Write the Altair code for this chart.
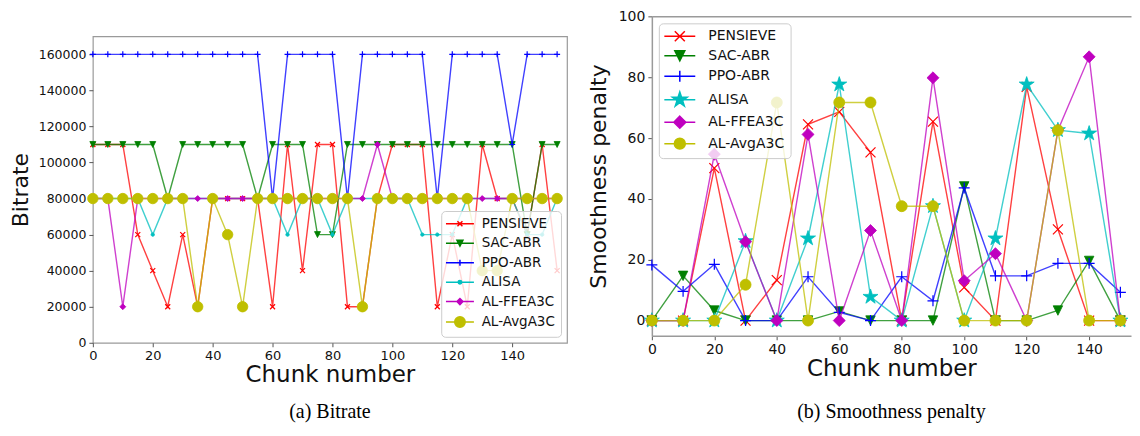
import math
import altair as alt
import pandas as pd

# ---------------- data ----------------
METHODS = ["PENSIEVE", "SAC-ABR", "PPO-ABR", "ALISA", "AL-FFEA3C", "AL-AvgA3C"]
COLORS = ["#ff0000", "#008000", "#0000ff", "#00bfbf", "#bf00bf", "#bfbf00"]

# (a) Bitrate, one point every 5 chunks
CHUNKS_A = [0, 5, 10, 15, 20, 25, 30, 35, 40, 45, 50, 55, 60, 65, 70, 75,
            80, 85, 90, 95, 100, 105, 110, 115, 120, 125, 130, 135, 140, 145, 150, 155]
BR_PENSIEVE = [110000, 110000, 110000, 60000, 40000, 20000, 60000, 20000, 80000, 80000, 80000, 80000,
               20000, 110000, 40000, 110000, 110000, 20000, 20000, 80000, 110000, 110000, 110000, 20000,
               60000, 20000, 110000, 80000, 80000, 60000, 110000, 40000]
BR_SAC = [110000, 110000, 110000, 110000, 110000, 80000, 110000, 110000, 110000, 110000, 110000, 80000,
          110000, 110000, 110000, 60000, 60000, 110000, 110000, 110000, 110000, 110000, 110000, 110000,
          110000, 110000, 110000, 110000, 110000, 60000, 110000, 110000]
BR_PPO = [160000, 160000, 160000, 160000, 160000, 160000, 160000, 160000, 160000, 160000, 160000, 160000,
          80000, 160000, 160000, 160000, 160000, 80000, 160000, 160000, 160000, 160000, 160000, 80000,
          160000, 160000, 160000, 160000, 110000, 160000, 160000, 160000]
BR_ALISA = [80000, 80000, 80000, 80000, 60000, 80000, 80000, 80000, 80000, 80000, 80000, 80000,
            80000, 60000, 80000, 80000, 60000, 80000, 80000, 80000, 80000, 80000, 60000, 60000,
            60000, 80000, 80000, 80000, 80000, 60000, 60000, 80000]
BR_FFEA3C = [80000, 80000, 20000, 80000, 80000, 80000, 80000, 80000, 80000, 80000, 80000, 80000,
             80000, 80000, 80000, 80000, 80000, 80000, 80000, 110000, 80000, 80000, 80000, 80000,
             80000, 80000, 80000, 80000, 80000, 80000, 80000, 80000]
BR_AVGA3C = [80000, 80000, 80000, 80000, 80000, 80000, 80000, 20000, 80000, 60000, 20000, 80000,
             80000, 80000, 80000, 80000, 80000, 80000, 20000, 80000, 80000, 80000, 80000, 80000,
             80000, 80000, 40000, 40000, 80000, 80000, 80000, 80000]

# (b) Smoothness penalty, one point every 10 chunks
CHUNKS_B = [0, 10, 20, 30, 40, 50, 60, 70, 80, 90, 100, 110, 120, 130, 140, 150]
SP_PENSIEVE = [0, 0, 50.1, 0, 13.3, 64.5, 68.6, 55.3, 0, 65.4, 10.9, 0, 76.8, 30.0, 0, 0]
SP_SAC = [0, 14.7, 3.3, 0, 0, 0, 3.0, 0, 0, 0, 44.1, 0, 0, 3.3, 19.6, 0]
SP_PPO = [18.3, 9.6, 18.5, 0, 0, 14.4, 2.7, 0, 14.4, 6.5, 43.6, 14.7, 14.7, 18.8, 18.8, 9.3]
SP_ALISA = [0, 0, 0, 26.1, 0, 27.0, 77.6, 7.8, 0, 37.6, 0, 27.0, 77.6, 62.6, 61.5, 0]
SP_FFEA3C = [0, 0, 54.7, 25.9, 0, 61.2, 0, 29.6, 0, 79.8, 13.1, 22.0, 0, 62.6, 86.7, 0]
SP_AVGA3C = [0, 0, 0, 11.8, 71.7, 0, 71.7, 71.7, 37.6, 37.6, 0, 0, 0, 62.6, 0, 0]

TICKS_X = [0, 20, 40, 60, 80, 100, 120, 140]
TICKS_Y_A = [0, 20000, 40000, 60000, 80000, 100000, 120000, 140000, 160000]
TICKS_Y_B = [0, 20, 40, 60, 80, 100]

SERIES_A = [BR_PENSIEVE, BR_SAC, BR_PPO, BR_ALISA, BR_FFEA3C, BR_AVGA3C]
SERIES_B = [SP_PENSIEVE, SP_SAC, SP_PPO, SP_ALISA, SP_FFEA3C, SP_AVGA3C]


# ---------------- marker geometry (matplotlib-like) ----------------
def f(v):
    s = f"{v:.3f}".rstrip("0").rstrip(".")
    return "0" if s in ("-0", "") else s


def poly(pts, s):
    return "M" + "L".join(f"{f(x * s)},{f(y * s)}" for x, y in pts) + "Z"


def marker(kind, s=1.0):
    if kind == "x":
        return f"M{f(-s)},{f(-s)}L{f(s)},{f(s)}M{f(-s)},{f(s)}L{f(s)},{f(-s)}"
    if kind == "+":
        return f"M{f(-s)},0L{f(s)},0M0,{f(-s)}L0,{f(s)}"
    if kind == "v":
        return poly([(-1, -1), (1, -1), (0, 1)], s)
    if kind == "D":
        return poly([(0, -1), (1, 0), (0, 1), (-1, 0)], s)
    if kind == "*":
        pts = []
        for k in range(10):
            a = math.radians(-90 + 36 * k)
            r = 1.0 if k % 2 == 0 else 0.381966
            pts.append((r * math.cos(a), r * math.sin(a)))
        return poly(pts, s)
    # circle ('o' and '.')
    return f"M{f(-s)},0A{f(s)},{f(s)},0,1,1,{f(s)},0A{f(s)},{f(s)},0,1,1,{f(-s)},0Z"


def legend_symbol(kind, half_line, s):
    return f"M{f(-half_line)},0L{f(half_line)},0" + marker(kind, s)


KINDS_A = ["x", "v", "+", ".", "D", "o"]
SIZES_A = [25, 36, 36, 12, 36, 110]
LEG_A = [0.5, 0.6, 0.6, 0.35, 0.6, 1.05]

KINDS_B = ["x", "v", "+", "*", "D", "o"]
SIZES_B = [100, 90, 121, 250, 144, 121]
LEG_B = [1.0, 1.0, 1.1, 1.55, 1.2, 1.1]

FONT = "DejaVu Sans"
AXIS_GRAY = "#9a9a9a"
IND = dict(stroke="independent", fill="independent", shape="independent")


def build_panel(chunks, series, kinds, sizes, leg_sizes, half_line, x_scale, y_scale,
                x_axis, y_axis, legend, top_axis=None):
    layers = []
    for i, (name, vals) in enumerate(zip(METHODS, series)):
        df = pd.DataFrame({"chunk": chunks, "value": vals})
        base = alt.Chart(df)
        if top_axis is None:
            xa_line, xa_pts = x_axis, x_axis
        else:
            xa_line = x_axis if i == 0 else None
            xa_pts = None
        y_enc = alt.Y("value:Q", scale=y_scale, axis=y_axis)
        line = base.mark_line(color=COLORS[i], strokeWidth=1.4, opacity=0.75).encode(
            x=alt.X("chunk:Q", scale=x_scale, axis=xa_line), y=y_enc)
        x_pts = alt.X("chunk:Q", scale=x_scale, axis=xa_pts)
        if kinds[i] in ("x", "+"):
            pts = base.mark_point(shape=marker(kinds[i]), size=sizes[i], filled=False,
                                  color=COLORS[i], strokeWidth=1.2, opacity=1).encode(
                x=x_pts, y=y_enc)
        else:
            pts = base.mark_point(shape=marker(kinds[i]), size=sizes[i], filled=True,
                                  fill=COLORS[i], stroke=COLORS[i], strokeWidth=0.8,
                                  opacity=1).encode(x=x_pts, y=y_enc)
        layers += [line, pts]

    leg_df = pd.DataFrame({"method": METHODS, "chunk": [0] * len(METHODS)})
    leg_paths = [legend_symbol(k, half_line, s) for k, s in zip(kinds, leg_sizes)]
    leg_enc = dict(
        stroke=alt.Stroke("method:N", scale=alt.Scale(domain=METHODS, range=COLORS), legend=legend),
        fill=alt.Fill("method:N", scale=alt.Scale(domain=METHODS, range=COLORS), legend=legend),
        shape=alt.Shape("method:N", scale=alt.Scale(domain=METHODS, range=leg_paths), legend=legend),
    )
    if top_axis is not None:
        leg_enc["x"] = alt.X("chunk:Q", scale=x_scale, axis=top_axis)
    leg_layer = (alt.Chart(leg_df).transform_filter("false")
                 .mark_point(filled=True, opacity=1, strokeWidth=1.5).encode(**leg_enc))
    layers.append(leg_layer)
    return alt.layer(*layers)


# ---------------- panel (a) ----------------
x_scale_a = alt.Scale(domain=[0, 158.3], nice=False, zero=False)
y_scale_a = alt.Scale(domain=[0, 170000], nice=False, zero=False)
x_axis_a = alt.Axis(values=TICKS_X, title="Chunk number", titleFontSize=23, labelFontSize=13,
                    tickSize=4, labelPadding=3, titlePadding=1, domain=False, grid=False,
                    labelFlush=False)
y_axis_a = alt.Axis(values=TICKS_Y_A, format="d", title="Bitrate", titleFontSize=22,
                    labelFontSize=12.5, tickSize=4, labelPadding=3, titlePadding=6,
                    domain=False, grid=False)
legend_a = alt.Legend(title=None, orient="bottom-right", offset=6, labelFont=FONT,
                      labelFontSize=13.5, labelColor="#111111", symbolSize=100,
                      symbolStrokeWidth=1.5, symbolOffset=6, labelOffset=15, rowPadding=4.5,
                      padding=6, fillColor="rgba(255,255,255,0.8)", strokeColor="#cccccc",
                      cornerRadius=4, symbolFillColor="white", symbolStrokeColor="black",
                      symbolOpacity=1)

panel_a = build_panel(CHUNKS_A, SERIES_A, KINDS_A, SIZES_A, LEG_A, 2.8, x_scale_a, y_scale_a,
                      x_axis_a, y_axis_a, legend_a).properties(
    width=475, height=307,
    view=alt.ViewBackground(stroke=AXIS_GRAY, strokeWidth=1.2),
    title=alt.TitleParams("(a) Bitrate", orient="bottom", anchor="middle", frame="group",
                          font="Liberation Serif", fontSize=20, fontWeight="normal",
                          color="#000000", offset=15),
)
spacer = alt.Chart(pd.DataFrame({"s": [0]})).mark_point(opacity=0).properties(
    width=475, height=18, view=alt.ViewBackground(stroke="transparent"))
panel_a_wrapped = alt.vconcat(spacer, panel_a, spacing=0).resolve_scale(**IND).resolve_legend(**IND)

# ---------------- panel (b) ----------------
x_scale_b = alt.Scale(domain=[0, 153.4], nice=False, zero=False)
y_scale_b = alt.Scale(domain=[-5, 100], nice=False, zero=False)
x_axis_b = alt.Axis(values=TICKS_X, title="Chunk number", titleFontSize=23, labelFontSize=14,
                    tickSize=4, labelPadding=3, titlePadding=1, domain=True,
                    domainColor=AXIS_GRAY, domainWidth=1.5, grid=False, labelFlush=False)
y_axis_b = alt.Axis(values=TICKS_Y_B, title="Smoothness penalty", titleFontSize=22,
                    labelFontSize=14, tickSize=4, labelPadding=3, titlePadding=8,
                    domain=True, domainColor=AXIS_GRAY, domainWidth=1.5, grid=False)
top_axis_b = alt.Axis(orient="top", labels=False, ticks=False, title="", domain=True,
                      domainColor=AXIS_GRAY, domainWidth=1.5, grid=False,
                      minExtent=0, maxExtent=0, offset=0)
legend_b = alt.Legend(title=None, orient="top-left", offset=7, labelFont=FONT,
                      labelFontSize=14, labelColor="#111111", symbolSize=100,
                      symbolStrokeWidth=1.5, symbolOffset=8, labelOffset=21.5, rowPadding=3.5,
                      padding=6, fillColor="rgba(255,255,255,0.8)", strokeColor="#cccccc",
                      cornerRadius=4, symbolFillColor="white", symbolStrokeColor="black",
                      symbolOpacity=1)

panel_b = build_panel(CHUNKS_B, SERIES_B, KINDS_B, SIZES_B, LEG_B, 3.1, x_scale_b, y_scale_b,
                      x_axis_b, y_axis_b, legend_b, top_axis=top_axis_b).resolve_axis(
    x="independent").properties(
    width=480, height=320,
    view=alt.ViewBackground(stroke="transparent"),
    title=alt.TitleParams("(b) Smoothness penalty", orient="bottom", anchor="middle",
                          frame="group", font="Liberation Serif", fontSize=20,
                          fontWeight="normal", color="#000000", offset=21),
)

chart = alt.hconcat(panel_a_wrapped, panel_b, spacing=18).resolve_scale(**IND).resolve_legend(
    **IND).properties(
    padding={"left": 0, "top": 0, "right": 0, "bottom": 0},
    background="white",
).configure(font=FONT).configure_axis(
    labelFont=FONT, titleFont=FONT, titleFontWeight="normal", labelColor="#111111",
    titleColor="#111111", tickColor="#555555", tickWidth=1,
)

chart.save("out.html", embed_options={"renderer": "svg", "actions": False})
